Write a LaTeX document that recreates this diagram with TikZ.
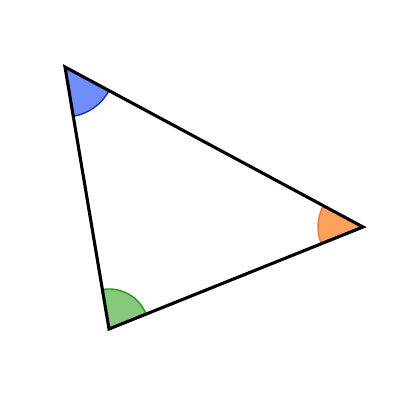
\documentclass[tikz,border=0pt]{standalone}
\usepackage{tikz}
\usetikzlibrary{calc}
\definecolor{wedgeBlue}{RGB}{112,142,250}
\definecolor{arcBlue}{RGB}{20,50,200}
\definecolor{wedgeGreen}{RGB}{132,202,122}
\definecolor{arcGreen}{RGB}{40,150,40}
\definecolor{wedgeOrange}{RGB}{252,162,92}
\definecolor{arcOrange}{RGB}{240,120,50}

\begin{document}
\begin{tikzpicture}[x=0.025cm, y=0.025cm,
  side/.style={line width=2.2pt, black},
  rim/.style={line width=1pt}]

\useasboundingbox (0,0) rectangle (400,400);

%% === Vertices ===
\coordinate (A) at (65,333);
\coordinate (B) at (109,71);
\coordinate (C) at (363,173);

%% === Angle wedges ===
% top vertex
\fill[wedgeBlue] (A) -- ++(-80.5:50) arc[start angle=-80.5, end angle=-28.2, radius=50] -- cycle;
\draw[rim, arcBlue] ($(A)+(-80.5:50)$) arc[start angle=-80.5, end angle=-28.2, radius=50];
% bottom vertex
\fill[wedgeGreen] (B) -- ++(21.9:40) arc[start angle=21.9, end angle=99.5, radius=40] -- cycle;
\draw[rim, arcGreen] ($(B)+(21.9:40)$) arc[start angle=21.9, end angle=99.5, radius=40];
% right vertex
\fill[wedgeOrange] (C) -- ++(151.8:45) arc[start angle=151.8, end angle=201.9, radius=45] -- cycle;
\draw[rim, arcOrange] ($(C)+(151.8:45)$) arc[start angle=151.8, end angle=201.9, radius=45];

%% === Triangle ===
\draw[side] (A) -- (B) -- (C) -- cycle;

\end{tikzpicture}
\end{document}
